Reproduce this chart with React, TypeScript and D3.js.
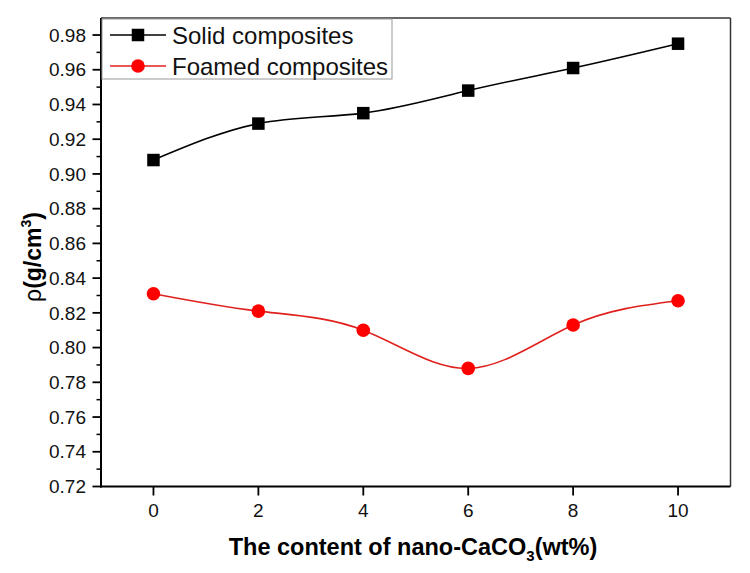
import React from "react";
import * as d3 from "d3";

const xValues = [0, 2, 4, 6, 8, 10];
const solidValues = [0.908, 0.929, 0.935, 0.948, 0.961, 0.975];
const foamedValues = [0.831, 0.821, 0.810, 0.788, 0.813, 0.827];
const xTicks = [0, 2, 4, 6, 8, 10];
const yTicks = [0.72, 0.74, 0.76, 0.78, 0.8, 0.82, 0.84, 0.86, 0.88, 0.9, 0.92, 0.94, 0.96, 0.98];
const yMinorTicks = [0.73, 0.75, 0.77, 0.79, 0.81, 0.83, 0.85, 0.87, 0.89, 0.91, 0.93, 0.95, 0.97];
const seriesNames = ["Solid composites", "Foamed composites"];

const W = 750;
const H = 573;
const left = 101;
const right = 730.5;
const top = 18;
const bottom = 486.5;
const FONT = "'Liberation Sans', Arial, Helvetica, sans-serif";

export default function App() {
  const x = d3.scaleLinear().domain([-1, 11]).range([left, right]);
  const y = d3.scaleLinear().domain([0.72, 0.9898]).range([bottom, top]);

  const line = d3
    .line<[number, number]>()
    .x((d) => x(d[0]))
    .y((d) => y(d[1]))
    .curve(d3.curveNatural);

  const solidPts: [number, number][] = xValues.map((v, i) => [v, solidValues[i]]);
  const foamPts: [number, number][] = xValues.map((v, i) => [v, foamedValues[i]]);

  const sq = 12.5;
  const r = 6.8;

  return (
    <svg
      width={W}
      height={H}
      style={{ position: "absolute", left: 0, top: 0, background: "#fff" }}
      fontFamily={FONT}
    >
      <rect x={0} y={0} width={W} height={H} fill="#fff" />
      {/* frame top/right */}
      <line x1={left} x2={right} y1={top} y2={top} stroke="#333" strokeWidth={1.5} />
      <line x1={right} x2={right} y1={top} y2={bottom} stroke="#333" strokeWidth={1.5} />

      {/* lines */}
      <path d={line(solidPts) || ""} fill="none" stroke="#000" strokeWidth={1.6} />
      <path d={line(foamPts) || ""} fill="none" stroke="#e0201c" strokeWidth={1.6} />

      {solidPts.map((p, i) => (
        <rect key={"s" + i} x={x(p[0]) - sq / 2} y={y(p[1]) - sq / 2} width={sq} height={sq} fill="#000" />
      ))}
      {foamPts.map((p, i) => (
        <circle key={"f" + i} cx={x(p[0])} cy={y(p[1])} r={r} fill="#ff0000" />
      ))}

      {/* y axis */}
      <line x1={left} x2={left} y1={top} y2={bottom + 1} stroke="#000" strokeWidth={2} />
      {yTicks.map((t) => (
        <g key={"yt" + t}>
          <line x1={left - 8.5} x2={left} y1={y(t)} y2={y(t)} stroke="#000" strokeWidth={1.8} />
          <text x={left - 15} y={y(t)} dy="0.35em" textAnchor="end" fontSize={19} fill="#111">
            {t.toFixed(2)}
          </text>
        </g>
      ))}
      {yMinorTicks.map((t) => (
        <line key={"ym" + t} x1={left - 4.5} x2={left} y1={y(t)} y2={y(t)} stroke="#000" strokeWidth={1.5} />
      ))}

      {/* x axis */}
      <line x1={left - 1} x2={right} y1={bottom} y2={bottom} stroke="#000" strokeWidth={2} />
      {xTicks.map((t) => (
        <g key={"xt" + t}>
          <line x1={x(t)} x2={x(t)} y1={bottom} y2={bottom + 9} stroke="#000" strokeWidth={1.8} />
          <text x={x(t)} y={517} textAnchor="middle" fontSize={19} fill="#111">
            {t}
          </text>
        </g>
      ))}

      {/* axis labels */}
      <text x={413} y={555} textAnchor="middle" fontSize={23.5} fontWeight="bold" fill="#000">
        The content of nano-CaCO
        <tspan fontSize={15} dy={6}>3</tspan>
        <tspan dy={-6}>(wt%)</tspan>
      </text>
      <text
        transform={`translate(41, 257) rotate(-90)`}
        textAnchor="middle"
        fontSize={23}
        fontWeight="bold"
        fill="#000"
      >
        <tspan fontWeight="normal">ρ</tspan>(g/cm
        <tspan fontSize={14} dy={-10}>3</tspan>
        <tspan dy={10}>)</tspan>
      </text>

      {/* legend */}
      <rect x={left + 1} y={top + 1} width={290} height={60} fill="#fff" stroke="#999" strokeWidth={1} />
      <line x1={110} x2={166} y1={35} y2={35} stroke="#000" strokeWidth={1.6} />
      <rect x={138 - sq / 2} y={35 - sq / 2} width={sq} height={sq} fill="#000" />
      <text x={172} y={43.5} fontSize={24} fill="#111">
        {seriesNames[0]}
      </text>
      <line x1={110} x2={166} y1={66} y2={66} stroke="#e0201c" strokeWidth={1.6} />
      <circle cx={138} cy={66} r={r} fill="#ff0000" />
      <text x={172} y={74.5} fontSize={24} fill="#111">
        {seriesNames[1]}
      </text>
    </svg>
  );
}
